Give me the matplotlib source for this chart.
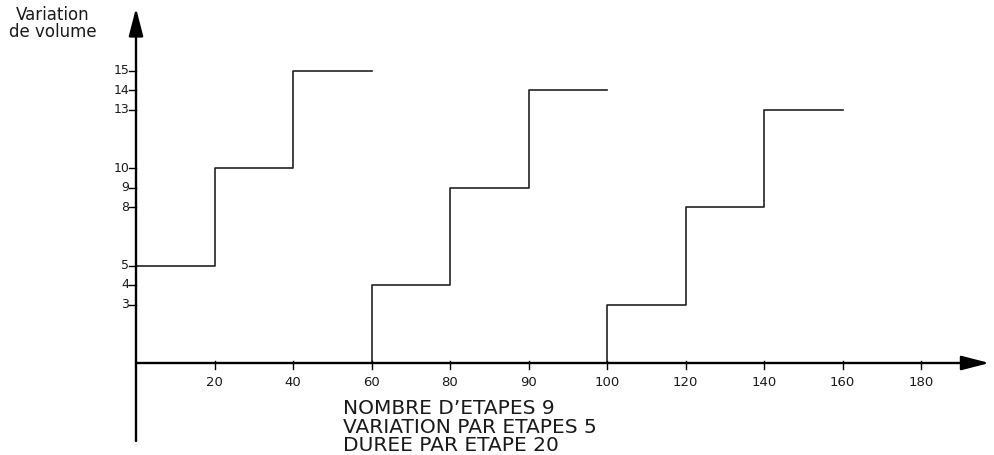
import matplotlib.pyplot as plt
import numpy as np

# Step series: x given as tick position index, y = volume level
S1_X = [0, 1, 2, 3]
S1_Y = [5, 10, 15, 15]
S2_X = [3, 3, 4, 5, 6]
S2_Y = [0, 4, 9, 14, 14]
S3_X = [6, 6, 7, 8, 9]
S3_Y = [0, 3, 8, 13, 13]

X_TICK_POS = [1, 2, 3, 4, 5, 6, 7, 8, 9, 10]
X_TICK_LABELS = ["20", "40", "60", "80", "90", "100", "120", "140", "160", "180"]
Y_TICKS = [3, 4, 5, 8, 9, 10, 13, 14, 15]
NOTE_LINES = ["NOMBRE D\u2019ETAPES 9", "VARIATION PAR ETAPES 5", "DUREE PAR ETAPE 20"]

FONT = "DejaVu Sans"
INK = "#1a1a1a"

fig = plt.figure(figsize=(9.95, 4.55), dpi=100)
ax = fig.add_axes([0, 0, 1, 1])
# pixel mapping: x_px = 136 + 78.5*p ; y_px(from top) = 363 - 19.5*v
ax.set_xlim(-136 / 78.5, (995 - 136) / 78.5)
ax.set_ylim((363 - 455) / 19.5, 363 / 19.5)
ax.axis("off")

# axes with arrowheads
arrow = dict(arrowstyle="-|>,head_length=0.85,head_width=0.22", mutation_scale=20,
             lw=1.7, color="black", shrinkA=0, shrinkB=0)
ax.annotate("", xy=(0, 18.2), xytext=(0, -4.0), arrowprops=arrow)
ax.annotate("", xy=(10.87, 0), xytext=(0, 0), arrowprops=arrow)

# steps
for xs, ys in [(S1_X, S1_Y), (S2_X, S2_Y), (S3_X, S3_Y)]:
    ax.plot(xs, ys, drawstyle="steps-post", color="#222222", lw=1.2)

# y ticks
for v in Y_TICKS:
    ax.plot([-0.09, 0], [v, v], color="black", lw=1.0)
    ax.text(-0.085, v, str(v), ha="right", va="center", fontsize=9,
            family=FONT, color=INK)

# x ticks
for p, lab in zip(X_TICK_POS, X_TICK_LABELS):
    ax.plot([p, p], [0.12, -0.3], color="black", lw=1.0)
    ax.text(p, -0.65, lab, ha="center", va="top", fontsize=9.5,
            family=FONT, color=INK)

ax.text(-1.06, 18.3, "Variation\nde volume", ha="center", va="top", fontsize=12,
        family=FONT, color=INK, linespacing=0.95)

# note block, one line at a time (tight leading as in the original)
for i, line in enumerate(NOTE_LINES):
    ax.text(2.64, -2.63 - 0.94 * i, line, ha="left", va="baseline", fontsize=14.5,
            family=FONT, color=INK)

fig.savefig("out.png", dpi=100)
